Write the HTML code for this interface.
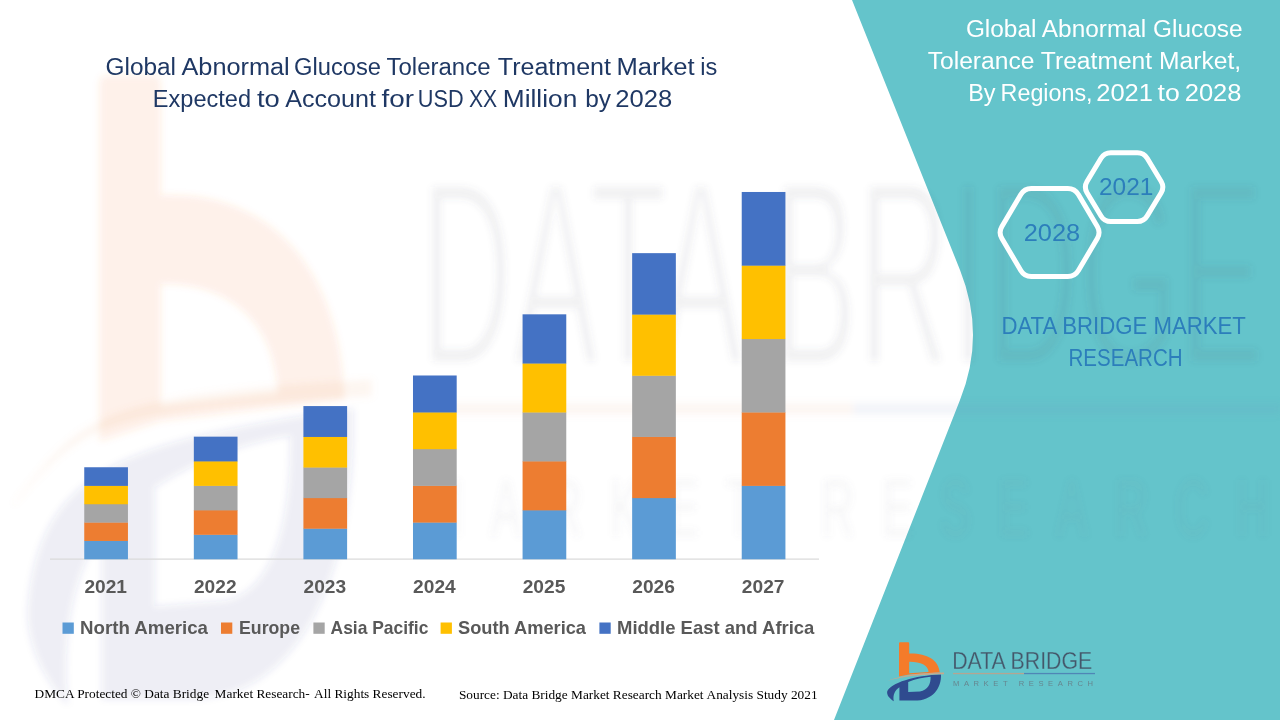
<!DOCTYPE html>
<html>
<head>
<meta charset="utf-8">
<title>Global Abnormal Glucose Tolerance Treatment Market</title>
<style>
html,body{margin:0;padding:0;width:1280px;height:720px;overflow:hidden;background:#fff;}
svg{display:block;position:absolute;left:0;top:0;}
text{font-family:"Liberation Sans",sans-serif;}
.serif{font-family:"Liberation Serif",serif;}
</style>
</head>
<body>
<svg width="1280" height="720" viewBox="0 0 1280 720">
<defs>
  <filter id="blur6" x="-5%" y="-5%" width="110%" height="110%"><feGaussianBlur stdDeviation="3.5"/></filter>
  <!-- logo in page coordinates -->
  <path id="lm-o" d="M899,643.2 Q899,642.3 900,642.3 L908.2,642.3 Q909.2,642.3 909.2,643.2 L909.2,653.5 C926,653 938.8,659.5 939.7,672.6 L909.2,674.6 L899,676.5 Z M909.2,661.8 L909.2,673.2 L928.6,672 C928.2,665.2 920,661.6 909.2,661.8 Z" fill="#F47B2A" fill-rule="evenodd"/>
  <path id="lm-n" d="M887.2,691.5 C890,683 915,675.2 941,674.4 C941.5,688 933,700.6 914,700.6 L899.4,700.6 L899.4,687.2 C895,690 892.6,695 893.8,701.2 C889.5,698.5 886.5,695 887.2,691.5 Z M908.2,681.9 C915,679.3 923,677.4 930.6,676.8 C930.8,684 928,690.2 920,691.4 L908.2,691.9 Z" fill="#2F4B8F" fill-rule="evenodd"/>
  <path id="lm-s" d="M887.4,680.8 C903,674.6 922,672.5 944,672.5 L944,674.2 C922,674.2 903,676.2 887.4,680.8 Z" fill="#C8A88C"/>
  <path id="wm-n" d="M887.2,691.5 C889.5,678.5 905,676.4 941.1,673.4 C941.8,688 933,700.6 914,700.6 L899.4,700.6 L899.4,685.2 C895,688.4 892.6,694.5 893.8,701.2 C889.5,698.5 886.5,695 887.2,691.5 Z M908.2,680.8 C915,678.3 923,676.6 930.6,676 C930.8,684 928,690.2 920,691.4 L908.2,691.9 Z" fill="#2F4B8F" fill-rule="evenodd"/>
  <path id="wm-s" d="M884.8,682.3 C896.3,673.9 898.8,672.2 944.2,670.7 L944.2,672.3 C898.8,673.5 896.3,674.8 884.8,682.5 Z" fill="#E9A77C"/>
  <g id="logo-mark"><use href="#lm-o"/><use href="#lm-n"/><use href="#lm-s"/></g>
  <mask id="thinmask" maskUnits="userSpaceOnUse" x="945" y="645" width="160" height="30">
    <text x="952.2" y="669.4" font-size="24.8" textLength="140" lengthAdjust="spacingAndGlyphs" fill="#fff" stroke="#000" stroke-width="0.3">DATA BRIDGE</text>
  </mask>
  <mask id="thinmask2" maskUnits="userSpaceOnUse" x="945" y="645" width="160" height="30">
    <text x="952.2" y="669.4" font-size="24.8" textLength="140" lengthAdjust="spacingAndGlyphs" fill="#fff" stroke="#000" stroke-width="0.8">DATA BRIDGE</text>
  </mask>
  <g id="logo-text">
    <rect x="945" y="645" width="160" height="30" fill="#44576A" mask="url(#thinmask)"/>
    <rect x="953" y="672.9" width="71" height="1.3" fill="#B5A591"/>
    <rect x="1024" y="672.9" width="71" height="1.3" fill="#4F86B6"/>
    <text x="953" y="685.9" font-size="7.6" textLength="140" lengthAdjust="spacing" fill="#66757F" fill-opacity="0.8">MARKET RESEARCH</text>
  </g>
</defs>

<!-- teal panel -->
<path id="teal" d="M852,0 L960,270 Q986,335 960,400 L834,720 L1280,720 L1280,0 Z" fill="#64C4CB"/>

<!-- watermark -->
<g id="wm" filter="url(#blur6)">
  <g transform="translate(425,175) scale(6.03,10.7) translate(-953,-651.6)">
    <use href="#lm-o" opacity="0.105"/>
    <use href="#wm-n" opacity="0.085"/>
    <use href="#wm-s" opacity="0.105"/>
    <rect x="945" y="645" width="160" height="30" fill="#5A5F66" mask="url(#thinmask2)" opacity="0.085"/>
    <rect x="953" y="672.9" width="71" height="1.1" fill="#D9A07A" opacity="0.09"/>
    <rect x="1024" y="672.9" width="71" height="1.1" fill="#6F95BD" opacity="0.09"/>
    <text x="953" y="685.3" font-size="7.6" textLength="140" lengthAdjust="spacing" fill="#7A7F86" opacity="0.065">MARKET RESEARCH</text>
  </g>
</g>

<!-- CHART -->
<g id="chart">
<rect x="50" y="558.5" width="769" height="1.2" fill="#D9D9D9"/>
<rect x="84.25" y="540.65" width="43.7" height="18.65" fill="#5B9BD5"/>
<rect x="84.25" y="522.30" width="43.7" height="18.65" fill="#ED7D31"/>
<rect x="84.25" y="503.95" width="43.7" height="18.65" fill="#A5A5A5"/>
<rect x="84.25" y="485.60" width="43.7" height="18.65" fill="#FFC000"/>
<rect x="84.25" y="467.25" width="43.7" height="18.65" fill="#4472C4"/>
<text x="84.40" y="592.8" font-size="18" font-weight="bold" fill="#595959" textLength="42.6" lengthAdjust="spacingAndGlyphs">2021</text>
<rect x="193.83" y="534.53" width="43.7" height="24.77" fill="#5B9BD5"/>
<rect x="193.83" y="510.06" width="43.7" height="24.77" fill="#ED7D31"/>
<rect x="193.83" y="485.60" width="43.7" height="24.77" fill="#A5A5A5"/>
<rect x="193.83" y="461.13" width="43.7" height="24.77" fill="#FFC000"/>
<rect x="193.83" y="436.66" width="43.7" height="24.77" fill="#4472C4"/>
<text x="193.98" y="592.8" font-size="18" font-weight="bold" fill="#595959" textLength="42.6" lengthAdjust="spacingAndGlyphs">2022</text>
<rect x="303.41" y="528.41" width="43.7" height="30.89" fill="#5B9BD5"/>
<rect x="303.41" y="497.83" width="43.7" height="30.89" fill="#ED7D31"/>
<rect x="303.41" y="467.25" width="43.7" height="30.89" fill="#A5A5A5"/>
<rect x="303.41" y="436.66" width="43.7" height="30.89" fill="#FFC000"/>
<rect x="303.41" y="406.07" width="43.7" height="30.89" fill="#4472C4"/>
<text x="303.56" y="592.8" font-size="18" font-weight="bold" fill="#595959" textLength="42.6" lengthAdjust="spacingAndGlyphs">2023</text>
<rect x="412.99" y="522.30" width="43.7" height="37.00" fill="#5B9BD5"/>
<rect x="412.99" y="485.60" width="43.7" height="37.00" fill="#ED7D31"/>
<rect x="412.99" y="448.89" width="43.7" height="37.00" fill="#A5A5A5"/>
<rect x="412.99" y="412.19" width="43.7" height="37.00" fill="#FFC000"/>
<rect x="412.99" y="375.49" width="43.7" height="37.00" fill="#4472C4"/>
<text x="413.14" y="592.8" font-size="18" font-weight="bold" fill="#595959" textLength="42.6" lengthAdjust="spacingAndGlyphs">2024</text>
<rect x="522.57" y="510.06" width="43.7" height="49.24" fill="#5B9BD5"/>
<rect x="522.57" y="461.13" width="43.7" height="49.24" fill="#ED7D31"/>
<rect x="522.57" y="412.19" width="43.7" height="49.24" fill="#A5A5A5"/>
<rect x="522.57" y="363.26" width="43.7" height="49.24" fill="#FFC000"/>
<rect x="522.57" y="314.32" width="43.7" height="49.24" fill="#4472C4"/>
<text x="522.72" y="592.8" font-size="18" font-weight="bold" fill="#595959" textLength="42.6" lengthAdjust="spacingAndGlyphs">2025</text>
<rect x="632.15" y="497.83" width="43.7" height="61.47" fill="#5B9BD5"/>
<rect x="632.15" y="436.66" width="43.7" height="61.47" fill="#ED7D31"/>
<rect x="632.15" y="375.49" width="43.7" height="61.47" fill="#A5A5A5"/>
<rect x="632.15" y="314.32" width="43.7" height="61.47" fill="#FFC000"/>
<rect x="632.15" y="253.15" width="43.7" height="61.47" fill="#4472C4"/>
<text x="632.30" y="592.8" font-size="18" font-weight="bold" fill="#595959" textLength="42.6" lengthAdjust="spacingAndGlyphs">2026</text>
<rect x="741.73" y="485.60" width="43.7" height="73.70" fill="#5B9BD5"/>
<rect x="741.73" y="412.19" width="43.7" height="73.70" fill="#ED7D31"/>
<rect x="741.73" y="338.79" width="43.7" height="73.70" fill="#A5A5A5"/>
<rect x="741.73" y="265.38" width="43.7" height="73.70" fill="#FFC000"/>
<rect x="741.73" y="191.98" width="43.7" height="73.70" fill="#4472C4"/>
<text x="741.88" y="592.8" font-size="18" font-weight="bold" fill="#595959" textLength="42.6" lengthAdjust="spacingAndGlyphs">2027</text>
<rect x="62.5" y="622.5" width="11.3" height="11.3" fill="#5B9BD5"/>
<text x="80" y="634" font-size="18.2" font-weight="bold" fill="#595959" textLength="128.0" lengthAdjust="spacingAndGlyphs">North America</text>
<rect x="221" y="622.5" width="11.3" height="11.3" fill="#ED7D31"/>
<text x="239" y="634" font-size="18.2" font-weight="bold" fill="#595959" textLength="61.0" lengthAdjust="spacingAndGlyphs">Europe</text>
<rect x="313.4" y="622.5" width="11.3" height="11.3" fill="#A5A5A5"/>
<text x="330.6" y="634" font-size="18.2" font-weight="bold" fill="#595959" textLength="97.8" lengthAdjust="spacingAndGlyphs">Asia Pacific</text>
<rect x="440.6" y="622.5" width="11.3" height="11.3" fill="#FFC000"/>
<text x="458" y="634" font-size="18.2" font-weight="bold" fill="#595959" textLength="128.0" lengthAdjust="spacingAndGlyphs">South America</text>
<rect x="599.4" y="622.5" width="11.3" height="11.3" fill="#4472C4"/>
<text x="617" y="634" font-size="18.2" font-weight="bold" fill="#595959" textLength="197.4" lengthAdjust="spacingAndGlyphs">Middle East and Africa</text>
</g>

<!-- TEXT -->
<g id="texts">
<text x="105.5" y="74.5" font-size="23.5" fill="#1F3864" textLength="70.5" lengthAdjust="spacingAndGlyphs">Global</text>
<text x="181.5" y="74.5" font-size="23.5" fill="#1F3864" textLength="108.2" lengthAdjust="spacingAndGlyphs">Abnormal</text>
<text x="294.0" y="74.5" font-size="23.5" fill="#1F3864" textLength="87.0" lengthAdjust="spacingAndGlyphs">Glucose</text>
<text x="386.5" y="74.5" font-size="23.5" fill="#1F3864" textLength="104.0" lengthAdjust="spacingAndGlyphs">Tolerance</text>
<text x="497.8" y="74.5" font-size="23.5" fill="#1F3864" textLength="113.2" lengthAdjust="spacingAndGlyphs">Treatment</text>
<text x="616.5" y="74.5" font-size="23.5" fill="#1F3864" textLength="78.2" lengthAdjust="spacingAndGlyphs">Market</text>
<text x="700.2" y="74.5" font-size="23.5" fill="#1F3864" textLength="17.0" lengthAdjust="spacingAndGlyphs">is</text>
<text x="152.8" y="106.75" font-size="23.5" fill="#1F3864" textLength="98.2" lengthAdjust="spacingAndGlyphs">Expected</text>
<text x="257.0" y="106.75" font-size="23.5" fill="#1F3864" textLength="22.8" lengthAdjust="spacingAndGlyphs">to</text>
<text x="285.2" y="106.75" font-size="23.5" fill="#1F3864" textLength="90.8" lengthAdjust="spacingAndGlyphs">Account</text>
<text x="381.5" y="106.75" font-size="23.5" fill="#1F3864" textLength="32.5" lengthAdjust="spacingAndGlyphs">for</text>
<text x="417.8" y="106.75" font-size="23.5" fill="#1F3864" textLength="45.8" lengthAdjust="spacingAndGlyphs">USD</text>
<text x="469.0" y="106.75" font-size="23.5" fill="#1F3864" textLength="28.2" lengthAdjust="spacingAndGlyphs">XX</text>
<text x="502.8" y="106.75" font-size="23.5" fill="#1F3864" textLength="74.5" lengthAdjust="spacingAndGlyphs">Million</text>
<text x="585.2" y="106.75" font-size="23.5" fill="#1F3864" textLength="25.8" lengthAdjust="spacingAndGlyphs">by</text>
<text x="615.2" y="106.75" font-size="23.5" fill="#1F3864" textLength="57.0" lengthAdjust="spacingAndGlyphs">2028</text>
<text x="965.9" y="37.1" font-size="23.3" fill="#FFFFFF" textLength="276.6" lengthAdjust="spacingAndGlyphs">Global Abnormal Glucose</text>
<text x="927.7" y="68.9" font-size="23.3" fill="#FFFFFF" textLength="313.4" lengthAdjust="spacingAndGlyphs">Tolerance Treatment Market,</text>
<text x="968.2" y="100.7" font-size="23.3" fill="#FFFFFF" textLength="27.3" lengthAdjust="spacingAndGlyphs">By</text>
<text x="1000.6" y="100.7" font-size="23.3" fill="#FFFFFF" textLength="92.0" lengthAdjust="spacingAndGlyphs">Regions,</text>
<text x="1096.2" y="100.7" font-size="23.3" fill="#FFFFFF" textLength="56.8" lengthAdjust="spacingAndGlyphs">2021</text>
<text x="1157.5" y="100.7" font-size="23.3" fill="#FFFFFF" textLength="22.2" lengthAdjust="spacingAndGlyphs">to</text>
<text x="1184.7" y="100.7" font-size="23.3" fill="#FFFFFF" textLength="56.8" lengthAdjust="spacingAndGlyphs">2028</text>
<text x="1023.7" y="240.7" font-size="23.5" fill="#2C7EBB" textLength="56.4" lengthAdjust="spacingAndGlyphs">2028</text>
<text x="1099.0" y="194.6" font-size="23.5" fill="#2C7EBB" textLength="54.4" lengthAdjust="spacingAndGlyphs">2021</text>
<text x="1001.4" y="333.9" font-size="23.7" fill="#2C7EBB" textLength="244.5" lengthAdjust="spacingAndGlyphs">DATA BRIDGE MARKET</text>
<text x="1068.5" y="365.8" font-size="23.7" fill="#2C7EBB" textLength="114.1" lengthAdjust="spacingAndGlyphs">RESEARCH</text>
<text class="serif" x="34.6" y="698" font-size="13.33" fill="#000">DMCA Protected © Data Bridge<tspan dx="2.2"> Market Research-</tspan><tspan dx="1.8"> All Rights Reserved.</tspan></text>
<text class="serif" x="458.9" y="699" font-size="13.33" fill="#000">Source: Data Bridge Market Research Market<tspan dx="0.4"> Analysis Study 2021</tspan></text>
<path d="M1001.9,238.5 Q998.3,232.5 1001.9,226.5 L1020.8,194.5 Q1024.3,188.5 1031.3,188.5 L1067.8,188.5 Q1074.8,188.5 1078.4,194.5 L1097.3,226.5 Q1100.8,232.5 1097.3,238.5 L1078.4,270.5 Q1074.8,276.5 1067.8,276.5 L1031.3,276.5 Q1024.3,276.5 1020.8,270.5 Z" fill="none" stroke="#fff" stroke-width="5" stroke-linejoin="round"/>
<path d="M1087.0,192.7 Q1083.7,187.1 1087.0,181.5 L1101.0,158.3 Q1104.3,152.7 1110.8,152.7 L1137.4,152.7 Q1143.9,152.7 1147.2,158.3 L1161.2,181.5 Q1164.5,187.1 1161.2,192.7 L1147.2,215.9 Q1143.9,221.5 1137.4,221.5 L1110.8,221.5 Q1104.3,221.5 1101.0,215.9 Z" fill="none" stroke="#fff" stroke-width="5" stroke-linejoin="round"/>
</g>

<!-- logo -->
<use href="#logo-mark"/>
<use href="#logo-text"/>
</svg>
</body>
</html>
